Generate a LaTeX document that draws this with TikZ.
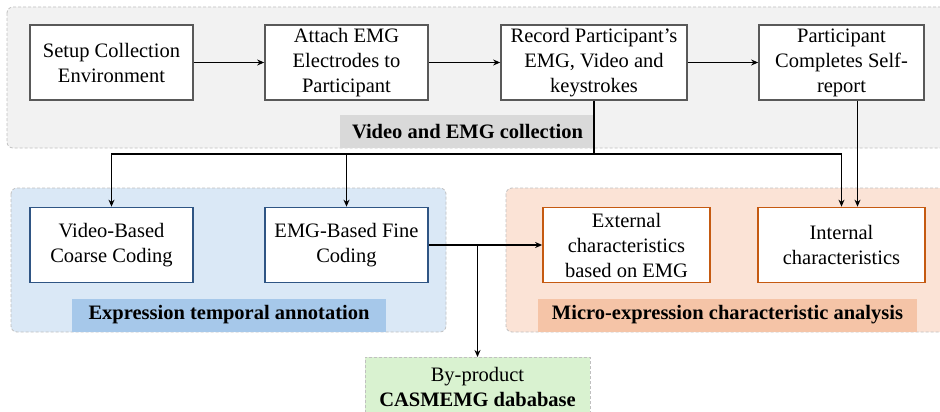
\documentclass[tikz,border=0pt]{standalone}
\usepackage{fontspec}
\setmainfont{Liberation Serif}
\usetikzlibrary{arrows.meta,positioning}
\definecolor{panelgray}{HTML}{F2F2F2}
\definecolor{labelgray}{HTML}{D9D9D9}
\definecolor{panelblue}{HTML}{DAE8F6}
\definecolor{labelblue}{HTML}{A6C8EA}
\definecolor{panelorange}{HTML}{FBE3D6}
\definecolor{labelorange}{HTML}{F5C4A7}
\definecolor{panelgreen}{HTML}{D9F2D0}
\definecolor{borderdash}{HTML}{C0C0C0}
\definecolor{boxgray}{HTML}{595959}
\definecolor{boxblue}{HTML}{2F5584}
\definecolor{boxorange}{HTML}{C55A11}
\tikzset{
  x=1pt, y=-1pt,
  every node/.style={font=\fontsize{20.5}{25}\selectfont, inner sep=0pt, align=center},
  panel/.style={draw=borderdash, line width=0.8pt, dash pattern=on 3pt off 2pt, rounded corners=6pt},
  stepbox/.style={draw=boxgray, fill=white, line width=1.7pt, minimum height=75pt},
  bluebox/.style={stepbox, draw=boxblue, minimum width=163pt},
  orangebox/.style={stepbox, draw=boxorange, minimum width=167pt},
  paneltitle/.style={font=\fontsize{20.5}{25}\selectfont\bfseries, minimum height=33pt},
  conn/.style={line width=1.7pt},
  arr/.style={conn, -{Stealth[length=7pt,width=6pt]}}
}
\begin{document}
\begin{tikzpicture}
\useasboundingbox (0,0) rectangle (940,412);
% panels
\draw[panel, fill=panelgray] (7,7) rectangle (960,148);
\draw[panel, fill=panelblue] (11,188) rectangle (446,332);
\draw[panel, fill=panelorange] (506,188) rectangle (960,332);
% panel titles
\node[paneltitle, fill=labelgray, minimum width=255pt] (t1) at (467.5,131.5) {Video and EMG collection};
\node[paneltitle, fill=labelblue, minimum width=314pt] (t2) at (229,315) {Expression temporal annotation};
\node[paneltitle, fill=labelorange, minimum width=379pt] (t3) at (727.5,315) {Micro-expression characteristic analysis};
% top row
\node[stepbox, minimum width=163pt] (setup) at (111.5,62.5) {Setup Collection\\Environment};
\node[stepbox, minimum width=163pt] (attach) at (346.5,62.5) {Attach EMG\\Electrodes to\\Participant};
\node[stepbox, minimum width=186pt] (record) at (594,62.5) {Record Participant’s\\EMG, Video and\\keystrokes};
\node[stepbox, minimum width=165pt] (self) at (841.5,62.5) {Participant\\Completes Self-\\report};
% middle row
\node[bluebox] (video) at (111.5,245) {Video-Based\\Coarse Coding};
\node[bluebox] (emg) at (346.5,245) {EMG-Based Fine\\Coding};
\node[orangebox] (external) at (626.5,245) {External\\characteristics\\based on EMG};
\node[orangebox] (internal) at (841.5,245) {Internal\\characteristics};
% by-product
\node[draw=borderdash, line width=0.8pt, dash pattern=on 3pt off 2pt, fill=panelgreen, minimum width=225pt, minimum height=62pt, anchor=north] (byprod) at (477.5,357) {};
\node (byprodtext) at (477.5,387) {By-product\\\textbf{CASMEMG dababase}};
% connectors
\draw[arr] (setup) -- (attach);
\draw[arr] (attach) -- (record);
\draw[arr] (record) -- (self);
\coordinate (j) at (594,154);
\draw[conn] (record.south) -- (j);
\draw[arr] (j) -| (video.north);
\draw[arr] (j) -| (emg.north);
\draw[arr] (j) -| (internal.north);
\draw[arr] ([xshift=16pt]self.south) -- ([xshift=16pt]internal.north);
\draw[arr] (emg) -- (external);
\coordinate (b) at (emg.east -| byprod.north);
\draw[arr] (b) -- (byprod.north);
\end{tikzpicture}
\end{document}
